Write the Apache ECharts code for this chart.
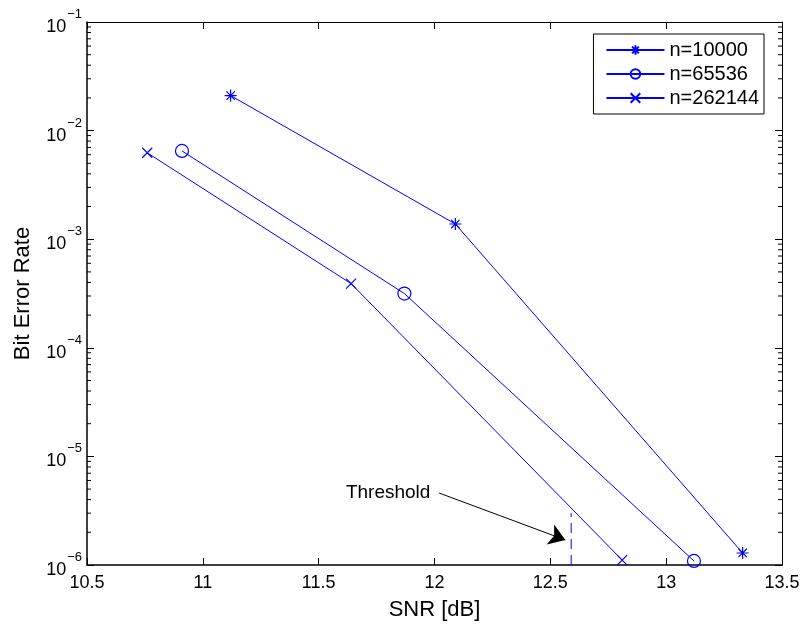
<!DOCTYPE html>
<html><head><meta charset="utf-8">
<script src="https://cdn.jsdelivr.net/npm/echarts@6/dist/echarts.min.js"></script>
<style>html,body{margin:0;padding:0;background:#fff}#c{width:804px;height:626px}</style>
</head><body><div id="c"></div>
<script>
const snr10000 = [11.12, 12.09, 13.33];
const ber10000 = [2.1e-2, 1.38e-3, 1.29e-6];
const snr65536 = [10.91, 11.87, 13.12];
const ber65536 = [6.5e-3, 3.16e-4, 1.09e-6];
const snr262144 = [10.76, 11.64, 12.81];
const ber262144 = [6.25e-3, 3.9e-4, 1.11e-6];
const thresholdSnr = 12.59;
const thresholdBer = [1e-6, 3e-6];
const arrowFrom = [12.02, 4.6e-6];
const arrowTo = [12.565, 1.7e-6];
const labelPos = [11.8, 4.6e-6];
const seriesNames = ['n=10000', 'n=65536', 'n=262144'];
const xTicks = [10.5, 11, 11.5, 12, 12.5, 13, 13.5];

const minorVals = [];
for (let e = -6; e < -1; e++) for (let m = 2; m <= 9; m++) minorVals.push(m * Math.pow(10, e));

const blue = '#0000ff';
const FONT = 'Liberation Sans, Arial, sans-serif';
const sym = {
  star: 'path://M5,0L5,10M0,5L10,5M1.5,1.5L8.5,8.5M8.5,1.5L1.5,8.5',
  circle: 'path://M10,5A5,5 0 1,1 0,5A5,5 0 1,1 10,5Z',
  cross: 'path://M0,0L10,10M10,0L0,10'
};
function zip(a, b) { return a.map((v, i) => [v, b[i]]); }
function mk(name, xs, ys, symbol, size) {
  return {
    name, type: 'line', data: zip(xs, ys), symbol, symbolSize: size,
    lineStyle: { color: blue, width: 1 },
    itemStyle: { color: 'none', borderColor: blue, borderWidth: 1.2 },
    emphasis: { disabled: true }, animation: false, z: 3
  };
}
const supFmt = v => {
  const e = Math.round(Math.log10(v));
  return '{b|10}{s|\u2212' + (-e) + '}';
};
const rich = {
  b: { fontSize: 18, fontFamily: FONT, color: '#000', verticalAlign: 'bottom', padding: [10, 0, 0, 0] },
  s: { fontSize: 13, fontFamily: FONT, color: '#000', verticalAlign: 'top', padding: [0, 0, 10, 1] }
};
const chart = echarts.init(document.getElementById('c'));
chart.setOption({
  animation: false,
  backgroundColor: '#fff',
  grid: { left: 87, right: 22, top: 22, bottom: 56 },
  legend: {
    data: seriesNames, orient: 'vertical', right: 40, top: 34,
    borderColor: '#000', borderWidth: 1, backgroundColor: '#fff',
    padding: [6, 5, 6, 12], itemWidth: 58, itemHeight: 12, itemGap: 4,
    textStyle: { fontSize: 20, fontFamily: FONT, color: '#000' }
  },
  xAxis: [{
    type: 'value', min: 10.5, max: 13.5, interval: 0.5,
    name: 'SNR [dB]', nameLocation: 'middle', nameGap: 34,
    nameTextStyle: { fontSize: 22, fontFamily: FONT, color: '#000' },
    axisLine: { lineStyle: { color: '#000', width: 1.5 } },
    axisTick: { inside: true, length: 7, lineStyle: { color: '#000' } },
    axisLabel: { fontSize: 18, fontFamily: FONT, color: '#000', margin: 9,
      formatter: v => xTicks.includes(v) ? String(v) : '' },
    splitLine: { show: false }
  }, {
    type: 'value', min: 10.5, max: 13.5, interval: 0.5, position: 'top',
    axisLine: { lineStyle: { color: '#000', width: 1 } },
    axisTick: { inside: true, length: 7, lineStyle: { color: '#000' } },
    axisLabel: { show: false }, splitLine: { show: false }
  }],
  yAxis: [{
    type: 'log', logBase: 10, min: 1e-6, max: 1e-1,
    name: 'Bit Error Rate', nameLocation: 'middle', nameGap: 53,
    nameTextStyle: { fontSize: 22, fontFamily: FONT, color: '#000' },
    axisLine: { lineStyle: { color: '#000', width: 1.5 } },
    axisTick: { inside: true, length: 7, lineStyle: { color: '#000' } },
    axisLabel: { formatter: supFmt, rich, margin: 5 },
    splitLine: { show: false }
  }, {
    type: 'log', logBase: 10, min: 1e-6, max: 1e-1, position: 'right',
    axisLine: { lineStyle: { color: '#000', width: 1 } },
    axisTick: { inside: true, length: 7, lineStyle: { color: '#000' } },
    axisLabel: { show: false }, splitLine: { show: false }
  }],
  series: [
    mk(seriesNames[0], snr10000, ber10000, sym.star, 12),
    mk(seriesNames[1], snr65536, ber65536, sym.circle, 13),
    mk(seriesNames[2], snr262144, ber262144, sym.cross, 10),
    {
      name: 'threshold', type: 'line', symbol: 'none',
      data: thresholdBer.map(b => [thresholdSnr, b]),
      lineStyle: { color: blue, width: 1, type: [10, 6] },
      emphasis: { disabled: true }, z: 2,
      markLine: {
        silent: true, symbol: ['none', 'arrow'], symbolSize: 16,
        itemStyle: { color: '#000' },
        lineStyle: { color: '#000', width: 1, type: 'solid' },
        label: { show: false },
        data: [[{ coord: arrowFrom }, { coord: arrowTo }]]
      },
      markPoint: {
        silent: true, symbol: 'circle', symbolSize: 1, itemStyle: { color: 'rgba(0,0,0,0)' },
        label: { show: true, position: 'inside', formatter: 'Threshold', fontSize: 19, fontFamily: FONT, color: '#000' },
        data: [{ coord: labelPos }]
      }
    },
    {
      type: 'custom', silent: true, z: 4,
      data: minorVals,
      renderItem: (params, api) => {
        const cs = params.coordSys;
        const y = api.coord([10.5, api.value(0)])[1];
        const L = 4;
        return { type: 'group', children: [
          { type: 'line', shape: { x1: cs.x, y1: y, x2: cs.x + L, y2: y }, style: { stroke: '#000', lineWidth: 1 } },
          { type: 'line', shape: { x1: cs.x + cs.width, y1: y, x2: cs.x + cs.width - L, y2: y }, style: { stroke: '#000', lineWidth: 1 } }
        ] };
      },
      encode: { y: 0 }
    }
  ]
});
</script></body></html>
